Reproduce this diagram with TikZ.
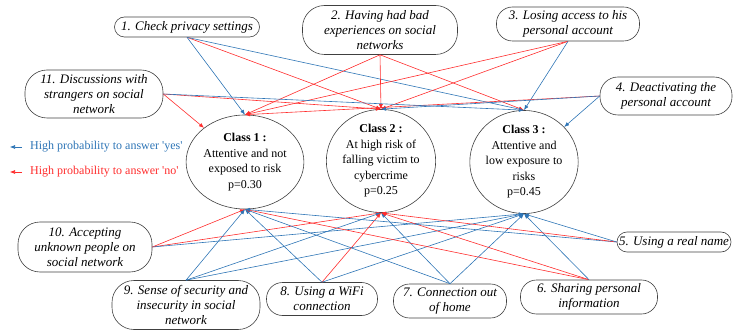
\documentclass[tikz,border=0pt]{standalone}
\usepackage{fontspec}
\setmainfont{Liberation Serif}
\usetikzlibrary{arrows.meta,positioning,shapes.geometric}

\definecolor{yescol}{RGB}{46,117,182}
\definecolor{nocol}{RGB}{255,45,45}

\begin{document}
\begin{tikzpicture}[
				x=1pt, y=-1pt,
				yesarrow/.style={draw=yescol, line width=0.6pt, -{Latex[length=5pt,width=4pt]}},
				noarrow/.style={draw=nocol, line width=0.6pt, -{Latex[length=5pt,width=4pt]}},
				item/.style={draw=black!75, line width=0.6pt, rectangle, rounded corners=16pt, align=center, inner sep=0pt,
					font=\fontsize{13}{15}\selectfont\itshape},
				class/.style={draw=black!75, line width=0.6pt, ellipse, align=center, inner sep=0pt,
					font=\fontsize{12}{15.5}\selectfont},
				legend/.style={anchor=west, inner sep=0pt, font=\fontsize{12}{14}\selectfont},
			]
				\useasboundingbox (0,0) rectangle (733,331);

				\node[class, minimum width=90pt, minimum height=94pt] (c1) at (245,162) {\textbf{Class 1 :}\\Attentive and not\\exposed to risk\\p=0.30};
				\node[class, minimum width=92pt, minimum height=102pt] (c2) at (381,161) {\textbf{Class 2 :}\\At high risk of\\falling victim to\\cybercrime\\p=0.25};
				\node[class, minimum width=88pt, minimum height=94pt] (c3) at (524,162) {\textbf{Class 3 :}\\Attentive and\\low exposure to\\risks\\p=0.45};

				\node[item, rounded corners=10pt, minimum width=145pt, minimum height=20pt] (privacy) at (187,27) {1. Check privacy settings};
				\node[item, rounded corners=22pt, minimum width=155pt, minimum height=49pt] (badexp) at (380,30) {2. Having had bad\\experiences on social\\networks};
				\node[item, minimum width=143pt, minimum height=34pt] (access) at (568,24) {3. Losing access to his\\personal account};
				\node[item, rounded corners=18pt, minimum width=132pt, minimum height=38pt] (deact) at (666,96) {4. Deactivating the\\personal account};
				\node[item, rounded corners=10pt, minimum width=114pt, minimum height=20pt] (realname) at (674,242) {5. Using a real name};
				\node[item, minimum width=137pt, minimum height=34pt] (sharing) at (589,297) {6. Sharing personal\\information};
				\node[item, minimum width=113pt, minimum height=34pt] (outhome) at (450,301) {7. Connection out\\of home};
				\node[item, minimum width=111pt, minimum height=33pt] (wifi) at (322,299) {8. Using a WiFi\\connection};
				\node[item, rounded corners=22pt, minimum width=148pt, minimum height=49pt] (security) at (186,305) {9. Sense of security and\\insecurity in social\\network};
				\node[item, rounded corners=22pt, minimum width=134pt, minimum height=50pt] (accepting) at (85,247) {10. Accepting\\unknown people on\\social network};
				\node[item, rounded corners=22pt, minimum width=138pt, minimum height=48pt] (strangers) at (94,94) {11. Discussions with\\strangers on social\\network};

				\node[legend, text=yescol] (yeslabel) at (30,147) {High probability to answer \textquotesingle yes\textquotesingle};
				\node[legend, text=nocol] (nolabel) at (30,172) {High probability to answer \textquotesingle no\textquotesingle};
				\coordinate[left=20pt of yeslabel.west] (yestip);
				\coordinate[left=20pt of nolabel.west] (notip);
				\draw[yesarrow] ([xshift=-8pt]yeslabel.west) -- (yestip);
				\draw[noarrow] ([xshift=-8pt]nolabel.west) -- (notip);

				\draw[yesarrow] (privacy.south) -- (c1.north);
				\draw[noarrow] (privacy.south) -- (c2.north);
				\draw[yesarrow] (privacy.south) -- (c3.north);

				\draw[noarrow] (badexp.south) -- (c1.north);
				\draw[noarrow] (badexp.south) -- (c2.north);
				\draw[noarrow] (badexp.south) -- (c3.north);

				\draw[noarrow] (access.south) -- (c1.north);
				\draw[noarrow] (access.south) -- (c2.north);
				\draw[yesarrow] (access.south) -- (c3.north);

				\draw[noarrow] (deact.west) -- (c1.north);
				\draw[yesarrow] (deact.west) -- (c2.north);
				\draw[yesarrow] (deact.west) -- (c3);

				\draw[noarrow] (strangers.east) -- (c1);
				\draw[noarrow] (strangers.east) -- (c2.north);
				\draw[yesarrow] (strangers.east) -- (c3.north);

				\draw[noarrow] (accepting.east) -- (c1.south);
				\draw[noarrow] (accepting.east) -- (c2.south);
				\draw[yesarrow] (accepting.east) -- (c3.south);

				\draw[yesarrow] (security.north) -- (c1.south);
				\draw[yesarrow] (security.north) -- (c2.south);
				\draw[yesarrow] (security.north) -- (c3.south);

				\draw[yesarrow] (wifi.north) -- (c1.south);
				\draw[noarrow] (wifi.north) -- (c2.south);
				\draw[yesarrow] (wifi.north) -- (c3.south);

				\draw[yesarrow] (outhome.north) -- (c1.south);
				\draw[yesarrow] (outhome.north) -- (c2.south);
				\draw[yesarrow] (outhome.north) -- (c3.south);

				\draw[noarrow] (sharing.north) -- (c1.south);
				\draw[noarrow] (sharing.north) -- (c2.south);
				\draw[yesarrow] (sharing.north) -- (c3.south);

				\draw[yesarrow] (realname.west) -- (c1.south);
				\draw[noarrow] (realname.west) -- (c2.south);
				\draw[yesarrow] (realname.west) -- (c3.south);
			\end{tikzpicture}
\end{document}
